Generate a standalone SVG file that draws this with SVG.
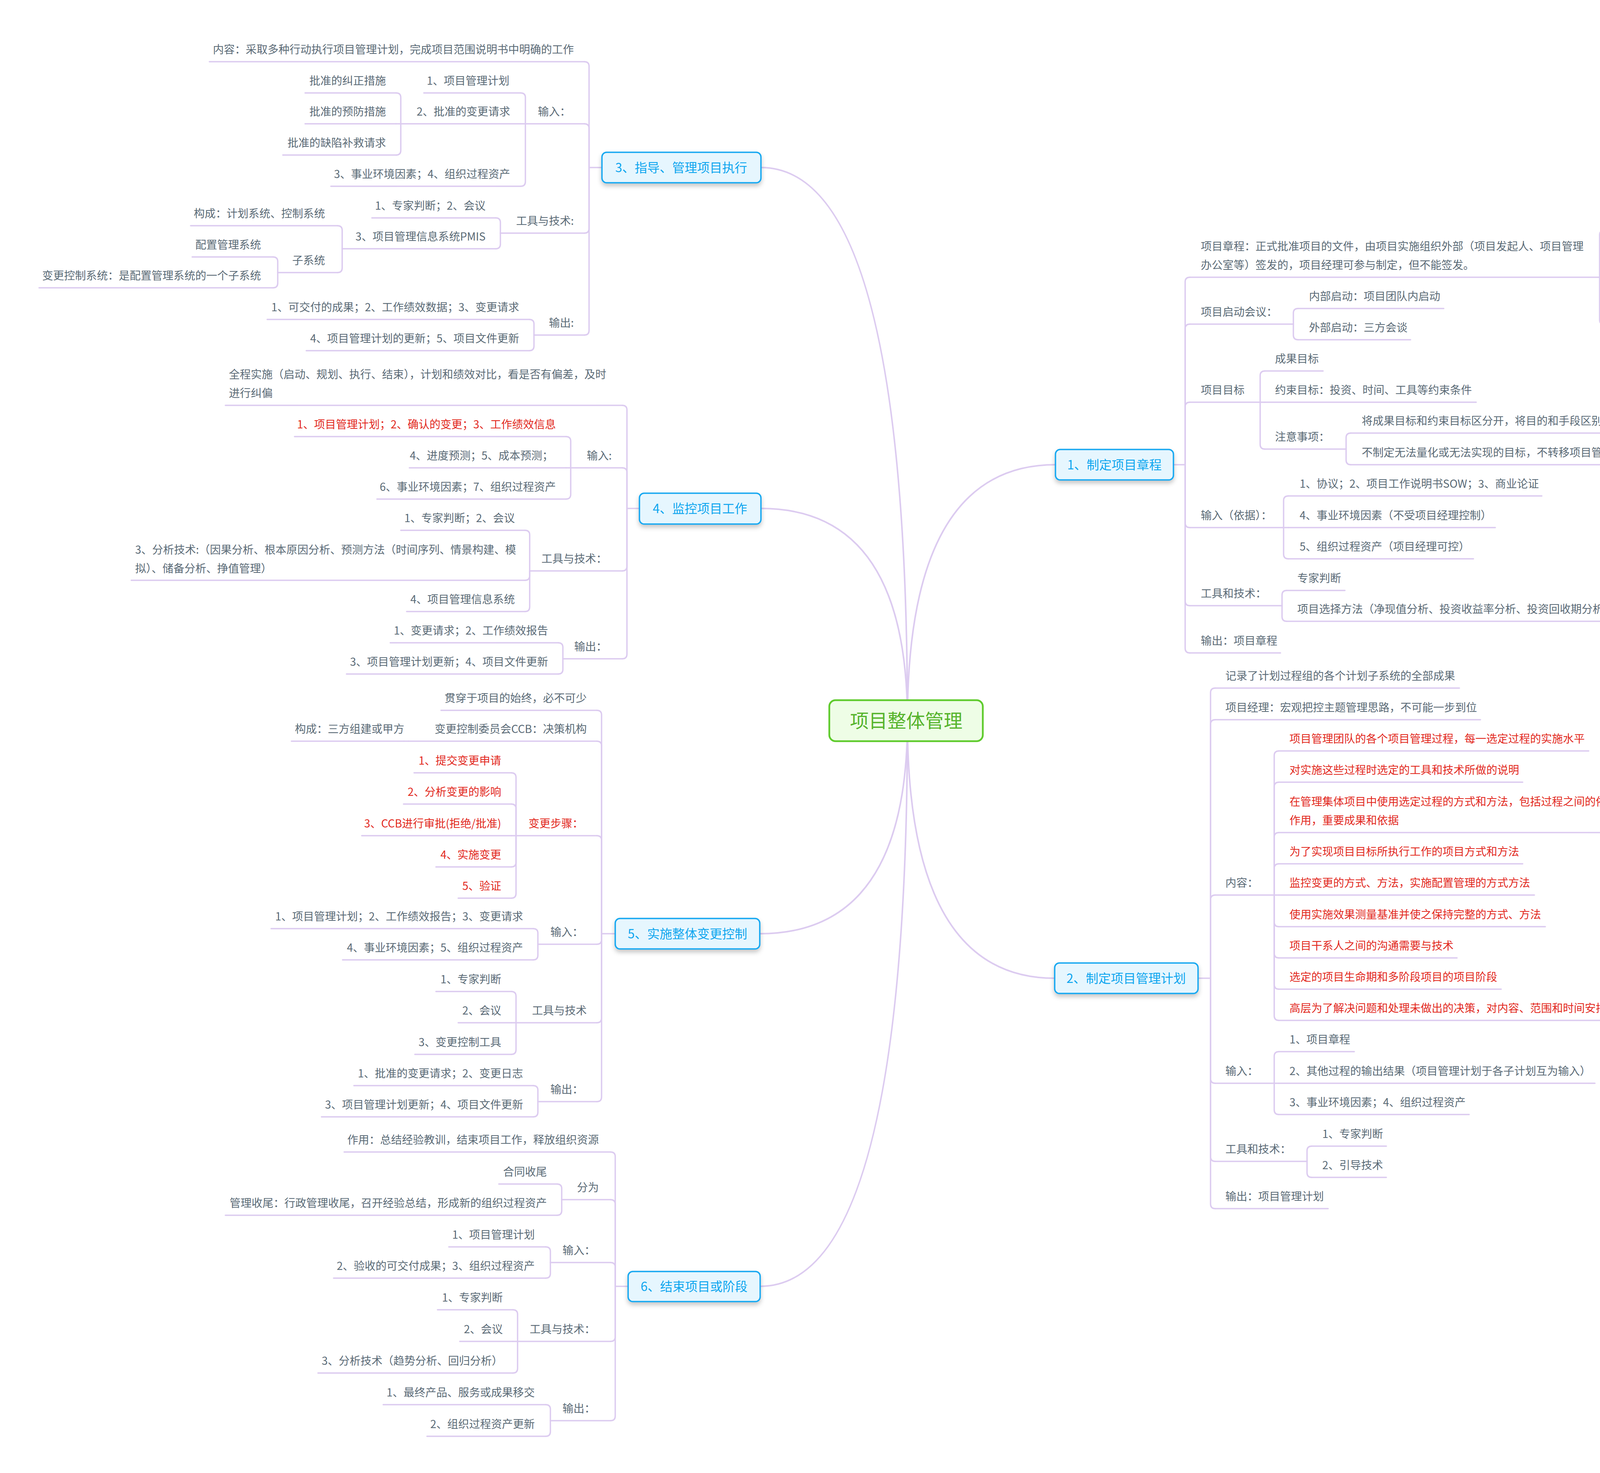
<svg xmlns="http://www.w3.org/2000/svg" width="5694" height="3772" viewBox="0 0 5694 3772">
<defs>
<style>
text{font-family:"Noto Sans CJK SC","Noto Sans",sans-serif;font-size:28px;fill:#5a6a76}
.e{text-anchor:end}
.r{fill:#e2281d}
.l{stroke:#dccbf0;stroke-width:3.5;fill:none;stroke-linecap:round}
.m{stroke:#dccbf0;stroke-width:4;fill:none}
.bn rect{fill:#e6f6fe;stroke:#17a8f1;stroke-width:3.5}
.bn text{font-size:32px;fill:#0ea6ef;text-anchor:middle}
</style>
<filter id="sh" x="-20%" y="-30%" width="140%" height="180%">
<feDropShadow dx="0" dy="7" stdDeviation="6" flood-color="#000" flood-opacity="0.22"/>
</filter>
</defs>
<rect width="5694" height="3772" fill="#fff"/>
<g id="connectors">
<path class="m" d="M2323 1846 Q2323 429 1948 429"/>
<path class="m" d="M2323 1846 Q2323 1302 1948 1302"/>
<path class="m" d="M2323 1846 Q2323 2391 1945 2391"/>
<path class="m" d="M2323 1846 Q2323 3294 1946 3294"/>
<path class="m" d="M2323 1846 Q2323 1190 2702 1190"/>
<path class="m" d="M2323 1846 Q2323 2505 2700 2505"/>
<g class="l">
<path d="M1541 429 H1508"/>
<path d="M1508 429 V170 Q1508 158 1496 158"/>
<path d="M1508 429 V329 Q1508 317 1496 317"/>
<path d="M1508 429 V585 Q1508 597 1496 597"/>
<path d="M1508 429 V846 Q1508 858 1496 858"/>
<path d="M1345 317 V250 Q1345 238 1333 238"/>
<path d="M1345 317 H1333"/>
<path d="M1345 317 V465 Q1345 477 1333 477"/>
<path d="M1026 317 V250 Q1026 238 1014 238"/>
<path d="M1026 317 H1014"/>
<path d="M1026 317 V385 Q1026 397 1014 397"/>
<path d="M1281 597 V570 Q1281 558 1269 558"/>
<path d="M1281 597 V625 Q1281 637 1269 637"/>
<path d="M876 637 V590 Q876 578 864 578"/>
<path d="M876 637 V686 Q876 698 864 698"/>
<path d="M711 698 V670 Q711 658 699 658"/>
<path d="M711 698 V725 Q711 737 699 737"/>
<path d="M1367 858 V830 Q1367 818 1355 818"/>
<path d="M1367 858 V886 Q1367 898 1355 898"/>

<path d="M1637 1302 H1605"/>
<path d="M1605 1302 V1050 Q1605 1038 1593 1038"/>
<path d="M1605 1302 V1210 Q1605 1198 1593 1198"/>
<path d="M1605 1302 V1450 Q1605 1462 1593 1462"/>
<path d="M1605 1302 V1675 Q1605 1687 1593 1687"/>
<path d="M1461 1198 V1130 Q1461 1118 1449 1118"/>
<path d="M1461 1198 H1449"/>
<path d="M1461 1198 V1266 Q1461 1278 1449 1278"/>
<path d="M1356 1462 V1370 Q1356 1358 1344 1358"/>
<path d="M1356 1462 V1474 Q1356 1486 1344 1486"/>
<path d="M1356 1462 V1554 Q1356 1566 1344 1566"/>
<path d="M1441 1687 V1658 Q1441 1646 1429 1646"/>
<path d="M1441 1687 V1714 Q1441 1726 1429 1726"/>

<path d="M1575 2391 H1540"/>
<path d="M1540 2391 V1831 Q1540 1819 1528 1819"/>
<path d="M1540 2391 V1910 Q1540 1898 1528 1898"/>
<path d="M1540 2391 V2152 Q1540 2140 1528 2140"/>
<path d="M1540 2391 V2406 Q1540 2418 1528 2418"/>
<path d="M1540 2391 V2607 Q1540 2619 1528 2619"/>
<path d="M1540 2391 V2809 Q1540 2821 1528 2821"/>
<path d="M1046 1898 H1034"/>
<path d="M1321 2140 V1991 Q1321 1979 1309 1979"/>
<path d="M1321 2140 V2071 Q1321 2059 1309 2059"/>
<path d="M1321 2140 H1309"/>
<path d="M1321 2140 V2208 Q1321 2220 1309 2220"/>
<path d="M1321 2140 V2288 Q1321 2300 1309 2300"/>
<path d="M1377 2418 V2390 Q1377 2378 1365 2378"/>
<path d="M1377 2418 V2446 Q1377 2458 1365 2458"/>
<path d="M1321 2619 V2551 Q1321 2539 1309 2539"/>
<path d="M1321 2619 H1309"/>
<path d="M1321 2619 V2688 Q1321 2700 1309 2700"/>
<path d="M1377 2821 V2792 Q1377 2780 1365 2780"/>
<path d="M1377 2821 V2848 Q1377 2860 1365 2860"/>

<path d="M1608 3294 H1575"/>
<path d="M1575 3294 V2962 Q1575 2950 1563 2950"/>
<path d="M1575 3294 V3084 Q1575 3072 1563 3072"/>
<path d="M1575 3294 V3245 Q1575 3233 1563 3233"/>
<path d="M1575 3294 V3423 Q1575 3435 1563 3435"/>
<path d="M1575 3294 V3626 Q1575 3638 1563 3638"/>
<path d="M1438 3072 V3044 Q1438 3032 1426 3032"/>
<path d="M1438 3072 V3100 Q1438 3112 1426 3112"/>
<path d="M1409 3233 V3205 Q1409 3193 1397 3193"/>
<path d="M1409 3233 V3261 Q1409 3273 1397 3273"/>
<path d="M1325 3435 V3366 Q1325 3354 1313 3354"/>
<path d="M1325 3435 H1313"/>
<path d="M1325 3435 V3504 Q1325 3516 1313 3516"/>
<path d="M1409 3638 V3609 Q1409 3597 1397 3597"/>
<path d="M1409 3638 V3666 Q1409 3678 1397 3678"/>

<path d="M3004 1190 H3034"/>
<path d="M3034 1190 V722 Q3034 710 3046 710"/>
<path d="M3034 1190 V842 Q3034 830 3046 830"/>
<path d="M3034 1190 V1042 Q3034 1030 3046 1030"/>
<path d="M3034 1190 V1339 Q3034 1351 3046 1351"/>
<path d="M3034 1190 V1539 Q3034 1551 3046 1551"/>
<path d="M3034 1190 V1660 Q3034 1672 3046 1672"/>
<path d="M4095 710 V602 Q4095 590 4107 590"/>
<path d="M4095 710 V819 Q4095 831 4107 831"/>
<path d="M4975 590 H4990"/>
<path d="M4259 831 V682 Q4259 670 4271 670"/>
<path d="M4259 831 V763 Q4259 751 4271 751"/>
<path d="M4259 831 H4271"/>
<path d="M4259 831 V900 Q4259 912 4271 912"/>
<path d="M4259 831 V1028 Q4259 1040 4271 1040"/>
<path d="M3311 830 V802 Q3311 790 3323 790"/>
<path d="M3311 830 V858 Q3311 870 3323 870"/>
<path d="M3226 1030 V962 Q3226 950 3238 950"/>
<path d="M3226 1030 H3238"/>
<path d="M3226 1030 V1138 Q3226 1150 3238 1150"/>
<path d="M3446 1150 V1121 Q3446 1109 3458 1109"/>
<path d="M3446 1150 V1178 Q3446 1190 3458 1190"/>
<path d="M3286 1351 V1282 Q3286 1270 3298 1270"/>
<path d="M3286 1351 H3298"/>
<path d="M3286 1351 V1419 Q3286 1431 3298 1431"/>
<path d="M3282 1551 V1524 Q3282 1512 3294 1512"/>
<path d="M3282 1551 V1579 Q3282 1591 3294 1591"/>

<path d="M3067 2505 H3099"/>
<path d="M3099 2505 V1774 Q3099 1762 3111 1762"/>
<path d="M3099 2505 V1855 Q3099 1843 3111 1843"/>
<path d="M3099 2505 V2304 Q3099 2292 3111 2292"/>
<path d="M3099 2505 V2762 Q3099 2774 3111 2774"/>
<path d="M3099 2505 V2962 Q3099 2974 3111 2974"/>
<path d="M3099 2505 V3083 Q3099 3095 3111 3095"/>
<path d="M3262 2292 V1935 Q3262 1923 3274 1923"/>
<path d="M3262 2292 V2015 Q3262 2003 3274 2003"/>
<path d="M3262 2292 V2144 Q3262 2132 3274 2132"/>
<path d="M3262 2292 V2224 Q3262 2212 3274 2212"/>
<path d="M3262 2292 H3274"/>
<path d="M3262 2292 V2361 Q3262 2373 3274 2373"/>
<path d="M3262 2292 V2441 Q3262 2453 3274 2453"/>
<path d="M3262 2292 V2521 Q3262 2533 3274 2533"/>
<path d="M3262 2292 V2601 Q3262 2613 3274 2613"/>
<path d="M3262 2774 V2705 Q3262 2693 3274 2693"/>
<path d="M3262 2774 H3274"/>
<path d="M3262 2774 V2842 Q3262 2854 3274 2854"/>
<path d="M3346 2974 V2947 Q3346 2935 3358 2935"/>
<path d="M3346 2974 V3003 Q3346 3015 3358 3015"/>
</g>
</g>

<g id="root">
<rect x="2123" y="1793" width="393" height="105" rx="16" fill="#eefde6" stroke="#5fcb2d" stroke-width="4.5"/>
<text x="2320" y="1863" text-anchor="middle" style="font-size:48px;fill:#56b42c">项目整体管理</text>
</g>

<g id="b3" class="bn"><rect x="1541" y="390" width="407" height="78" rx="12" filter="url(#sh)"/><text x="1744" y="441">3、指导、管理项目执行</text></g>
<g id="b4" class="bn"><rect x="1637" y="1263" width="311" height="79" rx="12" filter="url(#sh)"/><text x="1792" y="1314">4、监控项目工作</text></g>
<g id="b5" class="bn"><rect x="1575" y="2352" width="370" height="78" rx="12" filter="url(#sh)"/><text x="1760" y="2403">5、实施整体变更控制</text></g>
<g id="b6" class="bn"><rect x="1608" y="3256" width="338" height="77" rx="12" filter="url(#sh)"/><text x="1777" y="3306">6、结束项目或阶段</text></g>
<g id="b1" class="bn"><rect x="2702" y="1151" width="302" height="78" rx="12" filter="url(#sh)"/><text x="2853" y="1202">1、制定项目章程</text></g>
<g id="b2" class="bn"><rect x="2700" y="2466" width="367" height="78" rx="12" filter="url(#sh)"/><text x="2883" y="2517">2、制定项目管理计划</text></g>

<!-- branch 3 -->
<g id="n3-1"><path class="l" d="M536 158 H1496"/><text class="e" x="1469" y="137">内容：采取多种行动执行项目管理计划，完成项目范围说明书中明确的工作</text></g>
<g id="n3-2"><path class="l" d="M1345 317 H1496"/><text class="e" x="1461" y="296">输入：</text></g>
<g id="n3-2-1"><path class="l" d="M1085 238 H1333"/><text class="e" x="1304" y="217">1、项目管理计划</text></g>
<g id="n3-2-2"><path class="l" d="M1026 317 H1333"/><text class="e" x="1306" y="296">2、批准的变更请求</text></g>
<g id="n3-2-2-1"><path class="l" d="M781 238 H1014"/><text class="e" x="988" y="217">批准的纠正措施</text></g>
<g id="n3-2-2-2"><path class="l" d="M781 317 H1014"/><text class="e" x="988" y="296">批准的预防措施</text></g>
<g id="n3-2-2-3"><path class="l" d="M724 397 H1014"/><text class="e" x="988" y="376">批准的缺陷补救请求</text></g>
<g id="n3-2-3"><path class="l" d="M847 477 H1333"/><text class="e" x="1306" y="456">3、事业环境因素；4、组织过程资产</text></g>
<g id="n3-3"><path class="l" d="M1281 597 H1496"/><text class="e" x="1469" y="576">工具与技术:</text></g>
<g id="n3-3-1"><path class="l" d="M952 558 H1269"/><text class="e" x="1243" y="537">1、专家判断；2、会议</text></g>
<g id="n3-3-2"><path class="l" d="M876 637 H1269"/><text class="e" x="1243" y="616">3、项目管理信息系统PMIS</text></g>
<g id="n3-3-2-1"><path class="l" d="M488 578 H864"/><text class="e" x="832" y="557">构成：计划系统、控制系统</text></g>
<g id="n3-3-2-2"><path class="l" d="M711 698 H864"/><text class="e" x="832" y="677">子系统</text></g>
<g id="n3-3-2-2-1"><path class="l" d="M492 658 H699"/><text class="e" x="668" y="637">配置管理系统</text></g>
<g id="n3-3-2-2-2"><path class="l" d="M100 737 H699"/><text class="e" x="668" y="716">变更控制系统：是配置管理系统的一个子系统</text></g>
<g id="n3-4"><path class="l" d="M1367 858 H1496"/><text class="e" x="1469" y="837">输出:</text></g>
<g id="n3-4-1"><path class="l" d="M684 818 H1355"/><text class="e" x="1329" y="797">1、可交付的成果；2、工作绩效数据；3、变更请求</text></g>
<g id="n3-4-2"><path class="l" d="M784 898 H1355"/><text class="e" x="1329" y="877">4、项目管理计划的更新；5、项目文件更新</text></g>

<!-- branch 4 -->
<g id="n4-1"><path class="l" d="M577 1038 H1593"/><text x="586" y="969">全程实施（启动、规划、执行、结束），计划和绩效对比，看是否有偏差，及时</text><text x="586" y="1017">进行纠偏</text></g>
<g id="n4-2"><path class="l" d="M1461 1198 H1593"/><text class="e" x="1566" y="1177">输入:</text></g>
<g id="n4-2-1"><path class="l" d="M754 1118 H1449"/><text class="e r" x="1423" y="1097">1、项目管理计划；2、确认的变更；3、工作绩效信息</text></g>
<g id="n4-2-2"><path class="l" d="M1048 1198 H1449"/><text class="e" x="1416" y="1177">4、进度预测；5、成本预测；</text></g>
<g id="n4-2-3"><path class="l" d="M965 1278 H1449"/><text class="e" x="1423" y="1257">6、事业环境因素；7、组织过程资产</text></g>
<g id="n4-3"><path class="l" d="M1356 1462 H1593"/><text class="e" x="1554" y="1441">工具与技术：</text></g>
<g id="n4-3-1"><path class="l" d="M1026 1358 H1344"/><text class="e" x="1318" y="1337">1、专家判断；2、会议</text></g>
<g id="n4-3-2"><path class="l" d="M336 1486 H1344"/><text x="346" y="1418">3、分析技术:（因果分析、根本原因分析、预测方法（时间序列、情景构建、模</text><text x="346" y="1466">拟）、储备分析、挣值管理）</text></g>
<g id="n4-3-3"><path class="l" d="M1041 1566 H1344"/><text class="e" x="1318" y="1545">4、项目管理信息系统</text></g>
<g id="n4-4"><path class="l" d="M1441 1687 H1593"/><text class="e" x="1554" y="1666">输出：</text></g>
<g id="n4-4-1"><path class="l" d="M999 1646 H1429"/><text class="e" x="1403" y="1625">1、变更请求；2、工作绩效报告</text></g>
<g id="n4-4-2"><path class="l" d="M887 1726 H1429"/><text class="e" x="1403" y="1705">3、项目管理计划更新；4、项目文件更新</text></g>

<!-- branch 5 -->
<g id="n5-1"><path class="l" d="M1129 1819 H1528"/><text class="e" x="1502" y="1798">贯穿于项目的始终，必不可少</text></g>
<g id="n5-2"><path class="l" d="M1046 1898 H1528"/><text class="e" x="1502" y="1877">变更控制委员会CCB：决策机构</text></g>
<g id="n5-2-1"><path class="l" d="M746 1898 H1034"/><text class="e" x="1035" y="1877">构成：三方组建或甲方</text></g>
<g id="n5-3"><path class="l" d="M1321 2140 H1528"/><text class="e r" x="1493" y="2119">变更步骤：</text></g>
<g id="n5-3-1"><path class="l" d="M1060 1979 H1309"/><text class="e r" x="1283" y="1958">1、提交变更申请</text></g>
<g id="n5-3-2"><path class="l" d="M1033 2059 H1309"/><text class="e r" x="1283" y="2038">2、分析变更的影响</text></g>
<g id="n5-3-3"><path class="l" d="M926 2140 H1309"/><text class="e r" x="1283" y="2119">3、CCB进行审批(拒绝/批准)</text></g>
<g id="n5-3-4"><path class="l" d="M1116 2220 H1309"/><text class="e r" x="1283" y="2199">4、实施变更</text></g>
<g id="n5-3-5"><path class="l" d="M1173 2300 H1309"/><text class="e r" x="1283" y="2279">5、验证</text></g>
<g id="n5-4"><path class="l" d="M1377 2418 H1528"/><text class="e" x="1493" y="2397">输入：</text></g>
<g id="n5-4-1"><path class="l" d="M694 2378 H1365"/><text class="e" x="1339" y="2357">1、项目管理计划；2、工作绩效报告；3、变更请求</text></g>
<g id="n5-4-2"><path class="l" d="M877 2458 H1365"/><text class="e" x="1339" y="2437">4、事业环境因素；5、组织过程资产</text></g>
<g id="n5-5"><path class="l" d="M1321 2619 H1528"/><text class="e" x="1502" y="2598">工具与技术</text></g>
<g id="n5-5-1"><path class="l" d="M1116 2539 H1309"/><text class="e" x="1283" y="2518">1、专家判断</text></g>
<g id="n5-5-2"><path class="l" d="M1173 2619 H1309"/><text class="e" x="1283" y="2598">2、会议</text></g>
<g id="n5-5-3"><path class="l" d="M1062 2700 H1309"/><text class="e" x="1283" y="2679">3、变更控制工具</text></g>
<g id="n5-6"><path class="l" d="M1377 2821 H1528"/><text class="e" x="1493" y="2800">输出：</text></g>
<g id="n5-6-1"><path class="l" d="M906 2780 H1365"/><text class="e" x="1339" y="2759">1、批准的变更请求；2、变更日志</text></g>
<g id="n5-6-2"><path class="l" d="M823 2860 H1365"/><text class="e" x="1339" y="2839">3、项目管理计划更新；4、项目文件更新</text></g>

<!-- branch 6 -->
<g id="n6-1"><path class="l" d="M881 2950 H1563"/><text class="e" x="1533" y="2929">作用：总结经验教训，结束项目工作，释放组织资源</text></g>
<g id="n6-2"><path class="l" d="M1438 3072 H1563"/><text class="e" x="1533" y="3051">分为</text></g>
<g id="n6-2-1"><path class="l" d="M1277 3032 H1426"/><text class="e" x="1400" y="3011">合同收尾</text></g>
<g id="n6-2-2"><path class="l" d="M577 3112 H1426"/><text class="e" x="1400" y="3091">管理收尾：行政管理收尾，召开经验总结，形成新的组织过程资产</text></g>
<g id="n6-3"><path class="l" d="M1409 3233 H1563"/><text class="e" x="1524" y="3212">输入：</text></g>
<g id="n6-3-1"><path class="l" d="M1149 3193 H1397"/><text class="e" x="1369" y="3172">1、项目管理计划</text></g>
<g id="n6-3-2"><path class="l" d="M854 3273 H1397"/><text class="e" x="1369" y="3252">2、验收的可交付成果；3、组织过程资产</text></g>
<g id="n6-4"><path class="l" d="M1325 3435 H1563"/><text class="e" x="1524" y="3414">工具与技术：</text></g>
<g id="n6-4-1"><path class="l" d="M1120 3354 H1313"/><text class="e" x="1287" y="3333">1、专家判断</text></g>
<g id="n6-4-2"><path class="l" d="M1177 3435 H1313"/><text class="e" x="1287" y="3414">2、会议</text></g>
<g id="n6-4-3"><path class="l" d="M814 3516 H1313"/><text class="e" x="1287" y="3495">3、分析技术（趋势分析、回归分析）</text></g>
<g id="n6-5"><path class="l" d="M1409 3638 H1563"/><text class="e" x="1524" y="3617">输出：</text></g>
<g id="n6-5-1"><path class="l" d="M981 3597 H1397"/><text class="e" x="1369" y="3576">1、最终产品、服务或成果移交</text></g>
<g id="n6-5-2"><path class="l" d="M1093 3678 H1397"/><text class="e" x="1369" y="3657">2、组织过程资产更新</text></g>

<!-- branch 1 -->
<g id="n1-1"><path class="l" d="M3046 710 H4095"/><text x="3074" y="641">项目章程：正式批准项目的文件，由项目实施组织外部（项目发起人、项目管理</text><text x="3074" y="689">办公室等）签发的，项目经理可参与制定，但不能签发。</text></g>
<g id="n1-1-1"><path class="l" d="M4107 590 H4975"/><text x="4133" y="569">项目经理：项目章程授权项目经理在项目活动中动用组织的资源。</text></g>
<g id="n1-1-1-1"><path class="l" d="M4990 590 H5593"/><text x="5024" y="569">委派时间：规划开始之前，制定项目章程之时</text></g>
<g id="n1-1-2"><path class="l" d="M4107 831 H4259"/><text class="r" x="4133" y="810">内容：</text></g>
<g id="n1-1-2-1"><path class="l" d="M4271 670 H5118"/><text class="r" x="4297" y="649">项目目的或批准项目的原因，可测量的项目目标和相关的成功标准</text></g>
<g id="n1-1-2-2"><path class="l" d="M4271 751 H4754"/><text class="r" x="4297" y="730">项目的总体要求，概括性的项目描述</text></g>
<g id="n1-1-2-3"><path class="l" d="M4271 831 H4782"/><text class="r" x="4297" y="810">项目的主要风险，总体里程碑进度计划</text></g>
<g id="n1-1-2-4"><path class="l" d="M4271 912 H4613"/><text class="r" x="4297" y="891">总体预算，项目审批要求</text></g>
<g id="n1-1-2-5"><path class="l" d="M4271 1040 H5285"/><text class="r" x="4297" y="971">委派的项目经理及其职责和职权，发起人或其他批准项目章程的人员的姓名或职</text><text class="r" x="4297" y="1019">权</text></g>
<g id="n1-2"><path class="l" d="M3046 830 H3311"/><text x="3074" y="809">项目启动会议：</text></g>
<g id="n1-2-1"><path class="l" d="M3323 790 H3696"/><text x="3351" y="769">内部启动：项目团队内启动</text></g>
<g id="n1-2-2"><path class="l" d="M3323 870 H3611"/><text x="3351" y="849">外部启动：三方会谈</text></g>
<g id="n1-3"><path class="l" d="M3046 1030 H3226"/><text x="3074" y="1009">项目目标</text></g>
<g id="n1-3-1"><path class="l" d="M3238 950 H3387"/><text x="3264" y="929">成果目标</text></g>
<g id="n1-3-2"><path class="l" d="M3238 1030 H3779"/><text x="3264" y="1009">约束目标：投资、时间、工具等约束条件</text></g>
<g id="n1-3-3"><path class="l" d="M3238 1150 H3446"/><text x="3264" y="1129">注意事项：</text></g>
<g id="n1-3-3-1"><path class="l" d="M3458 1109 H4139"/><text x="3486" y="1088">将成果目标和约束目标区分开，将目的和手段区别开</text></g>
<g id="n1-3-3-2"><path class="l" d="M3458 1190 H4334"/><text x="3486" y="1169">不制定无法量化或无法实现的目标，不转移项目管理人员的努力方向</text></g>
<g id="n1-4"><path class="l" d="M3046 1351 H3286"/><text x="3074" y="1330">输入（依据）：</text></g>
<g id="n1-4-1"><path class="l" d="M3298 1270 H3947"/><text x="3327" y="1249">1、协议；2、项目工作说明书SOW；3、商业论证</text></g>
<g id="n1-4-2"><path class="l" d="M3298 1351 H3828"/><text x="3327" y="1330">4、事业环境因素（不受项目经理控制）</text></g>
<g id="n1-4-3"><path class="l" d="M3298 1431 H3772"/><text x="3327" y="1410">5、组织过程资产（项目经理可控）</text></g>
<g id="n1-5"><path class="l" d="M3046 1551 H3282"/><text x="3074" y="1530">工具和技术：</text></g>
<g id="n1-5-1"><path class="l" d="M3294 1512 H3443"/><text x="3321" y="1491">专家判断</text></g>
<g id="n1-5-2"><path class="l" d="M3294 1591 H4143"/><text x="3321" y="1570">项目选择方法（净现值分析、投资收益率分析、投资回收期分析）</text></g>
<g id="n1-6"><path class="l" d="M3046 1672 H3278"/><text x="3074" y="1651">输出：项目章程</text></g>

<!-- branch 2 -->
<g id="n2-1"><path class="l" d="M3111 1762 H3736"/><text x="3137" y="1741">记录了计划过程组的各个计划子系统的全部成果</text></g>
<g id="n2-2"><path class="l" d="M3111 1843 H3790"/><text x="3137" y="1822">项目经理：宏观把控主题管理思路，不可能一步到位</text></g>
<g id="n2-3"><path class="l" d="M3111 2292 H3262"/><text x="3137" y="2271">内容：</text></g>
<g id="n2-3-1"><path class="l" d="M3274 1923 H4067"/><text class="r" x="3301" y="1902">项目管理团队的各个项目管理过程，每一选定过程的实施水平</text></g>
<g id="n2-3-2"><path class="l" d="M3274 2003 H3898"/><text class="r" x="3301" y="1982">对实施这些过程时选定的工具和技术所做的说明</text></g>
<g id="n2-3-3"><path class="l" d="M3274 2132 H4291"/><text class="r" x="3301" y="2063">在管理集体项目中使用选定过程的方式和方法，包括过程之间的依赖关系和相互</text><text class="r" x="3301" y="2111">作用，重要成果和依据</text></g>
<g id="n2-3-4"><path class="l" d="M3274 2212 H3898"/><text class="r" x="3301" y="2191">为了实现项目目标所执行工作的项目方式和方法</text></g>
<g id="n2-3-5"><path class="l" d="M3274 2292 H3928"/><text class="r" x="3301" y="2271">监控变更的方式、方法，实施配置管理的方式方法</text></g>
<g id="n2-3-6"><path class="l" d="M3274 2373 H3956"/><text class="r" x="3301" y="2352">使用实施效果测量基准并使之保持完整的方式、方法</text></g>
<g id="n2-3-7"><path class="l" d="M3274 2453 H3730"/><text class="r" x="3301" y="2432">项目干系人之间的沟通需要与技术</text></g>
<g id="n2-3-8"><path class="l" d="M3274 2533 H3843"/><text class="r" x="3301" y="2512">选定的项目生命期和多阶段项目的项目阶段</text></g>
<g id="n2-3-9"><path class="l" d="M3274 2613 H4264"/><text class="r" x="3301" y="2592">高层为了解决问题和处理未做出的决策，对内容、范围和时间安排的关键审查</text></g>
<g id="n2-4"><path class="l" d="M3111 2774 H3262"/><text x="3137" y="2753">输入：</text></g>
<g id="n2-4-1"><path class="l" d="M3274 2693 H3467"/><text x="3301" y="2672">1、项目章程</text></g>
<g id="n2-4-2"><path class="l" d="M3274 2774 H4083"/><text x="3301" y="2753">2、其他过程的输出结果（项目管理计划于各子计划互为输入）</text></g>
<g id="n2-4-3"><path class="l" d="M3274 2854 H3761"/><text x="3301" y="2833">3、事业环境因素；4、组织过程资产</text></g>
<g id="n2-5"><path class="l" d="M3111 2974 H3346"/><text x="3137" y="2953">工具和技术：</text></g>
<g id="n2-5-1"><path class="l" d="M3358 2935 H3549"/><text x="3385" y="2914">1、专家判断</text></g>
<g id="n2-5-2"><path class="l" d="M3358 3015 H3549"/><text x="3385" y="2994">2、引导技术</text></g>
<g id="n2-6"><path class="l" d="M3111 3095 H3400"/><text x="3137" y="3074">输出：项目管理计划</text></g>
</svg>
